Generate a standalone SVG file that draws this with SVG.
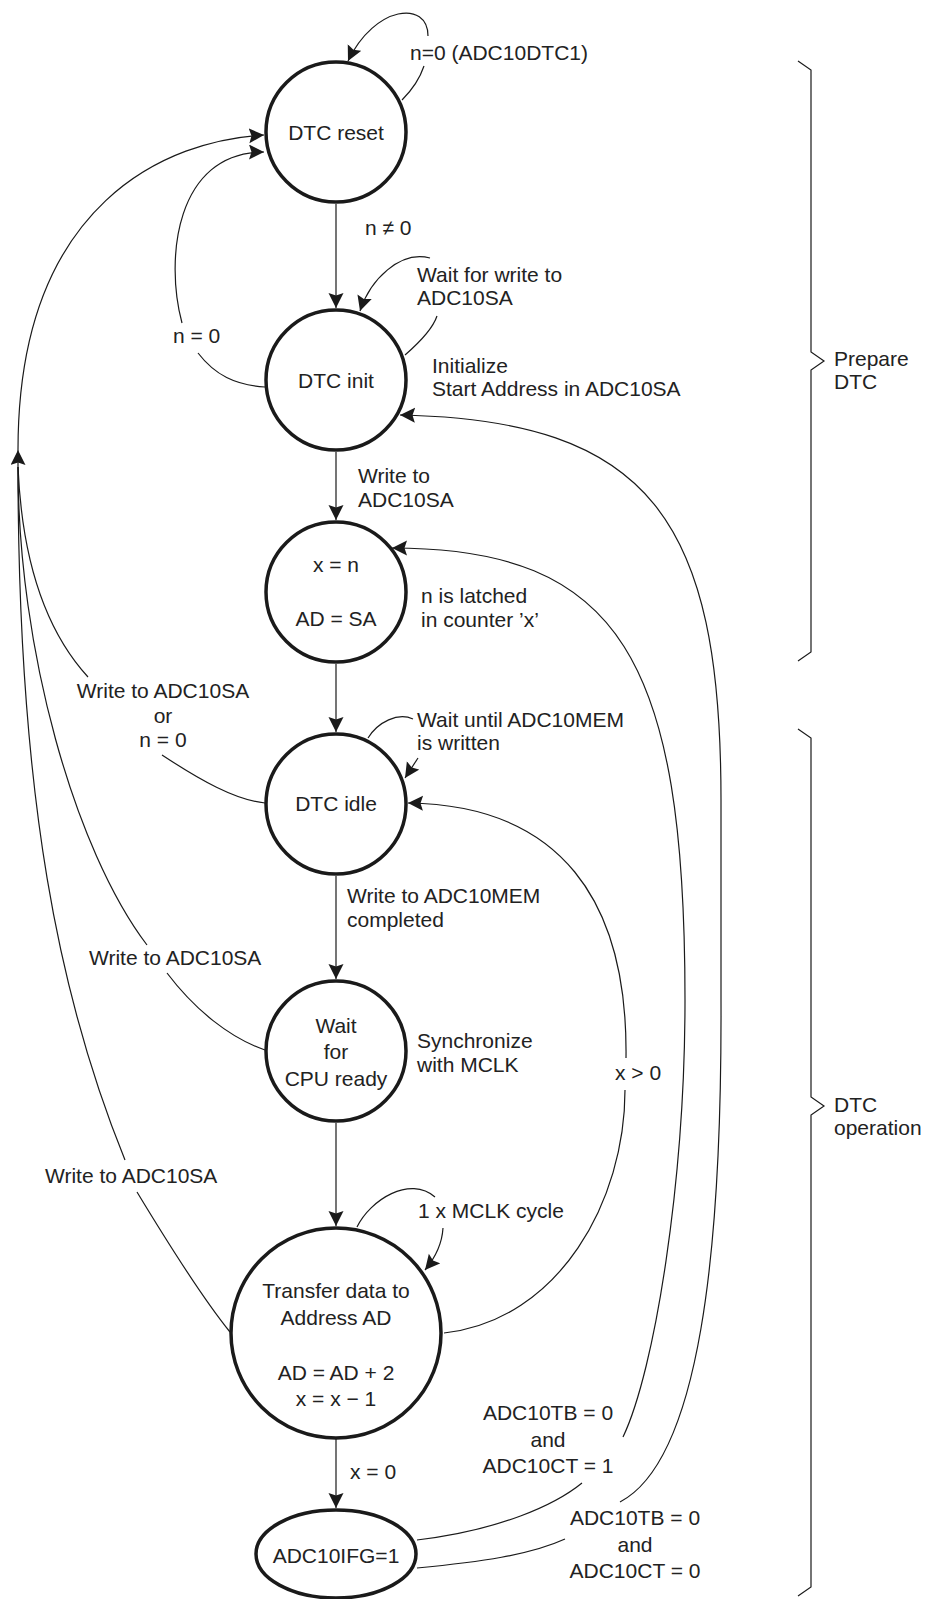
<svg xmlns="http://www.w3.org/2000/svg" width="926" height="1599" viewBox="0 0 926 1599">
<defs>
<marker id="ah" markerUnits="userSpaceOnUse" markerWidth="16" markerHeight="16" refX="15" refY="7.5" orient="auto">
<path d="M0,0 L15,7.5 L0,15 L2.5,7.5 z" fill="#1a1a1a"/>
</marker>
<style>
.n{fill:#fff;stroke:#1a1a1a;stroke-width:3.5}
.c{fill:none;stroke:#1a1a1a;stroke-width:1.2}
.a{fill:none;stroke:#1a1a1a;stroke-width:1.2;marker-end:url(#ah)}
text{font-family:"Liberation Sans",Arial,sans-serif;font-size:21px;fill:#222}
.m{text-anchor:middle}
.b{fill:none;stroke:#1a1a1a;stroke-width:1.2}
</style>
</defs>
<rect width="926" height="1599" fill="#fff"/>

<g id="connectors">
<!-- straight transitions -->
<path class="a" d="M336,204 L336,308"/>
<path class="a" d="M336,452 L336,520"/>
<path class="a" d="M336,664 L336,732"/>
<path class="a" d="M336,876 L336,979"/>
<path class="a" d="M336,1123 L336,1226"/>
<path class="a" d="M336,1439 L336,1508"/>
<!-- self loop DTC reset -->
<path class="c" d="M402,100 C412,90 420,78 424,66"/>
<path class="a" d="M428,36 C428,0 375,5 348,61"/>
<!-- self loop DTC init -->
<path class="c" d="M405,355 C420,342 433,328 437,316"/>
<path class="a" d="M430,258 C400,250 370,280 360,311"/>
<!-- self loop DTC idle -->
<path class="c" d="M368,738 C378,722 398,712 413,719"/>
<path class="a" d="M418,758 L405,778"/>
<!-- self loop transfer -->
<path class="c" d="M357,1227 C370,1200 410,1175 435,1197"/>
<path class="a" d="M443,1228 C442,1245 435,1258 425,1270"/>
<!-- n = 0 : init -> reset -->
<path class="c" d="M265,387 C235,385 215,375 198,353"/>
<path class="a" d="M182,323 C165,260 175,152 264,152"/>
<!-- outer left trunk to reset -->
<path class="a" d="M18,450 C18,200 170,140 264,135"/>
<path class="a" d="M18,467 L18,450"/>
<!-- idle -> reset -->
<path class="c" d="M18,467 C22,560 45,630 88,677"/>
<path class="c" d="M162,755 C200,780 235,800 265,803"/>
<!-- wait -> reset -->
<path class="c" d="M18,467 C18,650 75,850 147,945"/>
<path class="c" d="M167,973 C195,1010 230,1038 265,1050"/>
<!-- transfer -> reset -->
<path class="c" d="M18,467 C18,800 60,1000 125,1160"/>
<path class="c" d="M137,1192 C160,1230 200,1295 230,1332"/>
<!-- x > 0 : transfer -> idle -->
<path class="c" d="M444,1333 C560,1320 625,1200 625,1090"/>
<path class="a" d="M626,1058 C628,900 560,805 408,803"/>
<!-- CT=1 : IFG -> x=n -->
<path class="c" d="M417,1540 C500,1530 555,1505 582,1483"/>
<path class="a" d="M623,1437 C655,1370 685,1180 685,1000 C685,660 620,548 392,548"/>
<!-- CT=0 : IFG -> init -->
<path class="c" d="M417,1568 C480,1562 530,1555 565,1539"/>
<path class="a" d="M620,1502 C700,1460 722,1250 721,1000 L721,800 C721,520 650,420 400,415"/>
</g>

<g id="node-reset"><circle class="n" cx="336" cy="132" r="70"/><text class="m" x="336" y="140">DTC reset</text></g>
<g id="node-init"><circle class="n" cx="336" cy="380" r="70"/><text class="m" x="336" y="388">DTC init</text></g>
<g id="node-latch"><circle class="n" cx="336" cy="592" r="70"/><text class="m" x="336" y="572">x = n</text><text class="m" x="336" y="626">AD = SA</text></g>
<g id="node-idle"><circle class="n" cx="336" cy="804" r="70"/><text class="m" x="336" y="811">DTC idle</text></g>
<g id="node-wait"><circle class="n" cx="336" cy="1051" r="70"/><text class="m" x="336" y="1033">Wait</text><text class="m" x="336" y="1059">for</text><text class="m" x="336" y="1086">CPU ready</text></g>
<g id="node-transfer"><circle class="n" cx="336" cy="1333" r="105"/><text class="m" x="336" y="1298">Transfer data to</text><text class="m" x="336" y="1325">Address AD</text><text class="m" x="336" y="1380">AD = AD + 2</text><text class="m" x="336" y="1406">x = x − 1</text></g>
<g id="node-ifg"><ellipse class="n" cx="336" cy="1554" rx="80" ry="44"/><text class="m" x="336" y="1563">ADC10IFG=1</text></g>

<g id="labels">
<text x="410" y="60">n=0 (ADC10DTC1)</text>
<text x="365" y="235">n ≠ 0</text>
<text x="417" y="282">Wait for write to</text>
<text x="417" y="305">ADC10SA</text>
<text x="173" y="343">n = 0</text>
<text x="432" y="373">Initialize</text>
<text x="432" y="396">Start Address in ADC10SA</text>
<text x="358" y="483">Write to</text>
<text x="358" y="507">ADC10SA</text>
<text x="421" y="603">n is latched</text>
<text x="421" y="627">in counter ’x’</text>
<text class="m" x="163" y="698">Write to ADC10SA</text>
<text class="m" x="163" y="723">or</text>
<text class="m" x="163" y="747">n = 0</text>
<text x="417" y="727">Wait until ADC10MEM</text>
<text x="417" y="750">is written</text>
<text x="347" y="903">Write to ADC10MEM</text>
<text x="347" y="927">completed</text>
<text x="89" y="965">Write to ADC10SA</text>
<text x="417" y="1048">Synchronize</text>
<text x="417" y="1072">with MCLK</text>
<text x="615" y="1080">x &gt; 0</text>
<text x="45" y="1183">Write to ADC10SA</text>
<text x="418" y="1218">1 x MCLK cycle</text>
<text class="m" x="548" y="1420">ADC10TB = 0</text>
<text class="m" x="548" y="1447">and</text>
<text class="m" x="548" y="1473">ADC10CT = 1</text>
<text x="350" y="1479">x = 0</text>
<text class="m" x="635" y="1525">ADC10TB = 0</text>
<text class="m" x="635" y="1552">and</text>
<text class="m" x="635" y="1578">ADC10CT = 0</text>
</g>

<g id="bracket-prepare">
<path class="b" d="M798,61 L811,70 L811,352 L824,361 L811,370 L811,652 L798,661"/>
<text x="834" y="366">Prepare</text>
<text x="834" y="389">DTC</text>
</g>
<g id="bracket-operation">
<path class="b" d="M798,729 L811,738 L811,1097 L824,1106 L811,1115 L811,1587 L798,1596"/>
<text x="834" y="1112">DTC</text>
<text x="834" y="1135">operation</text>
</g>
</svg>
